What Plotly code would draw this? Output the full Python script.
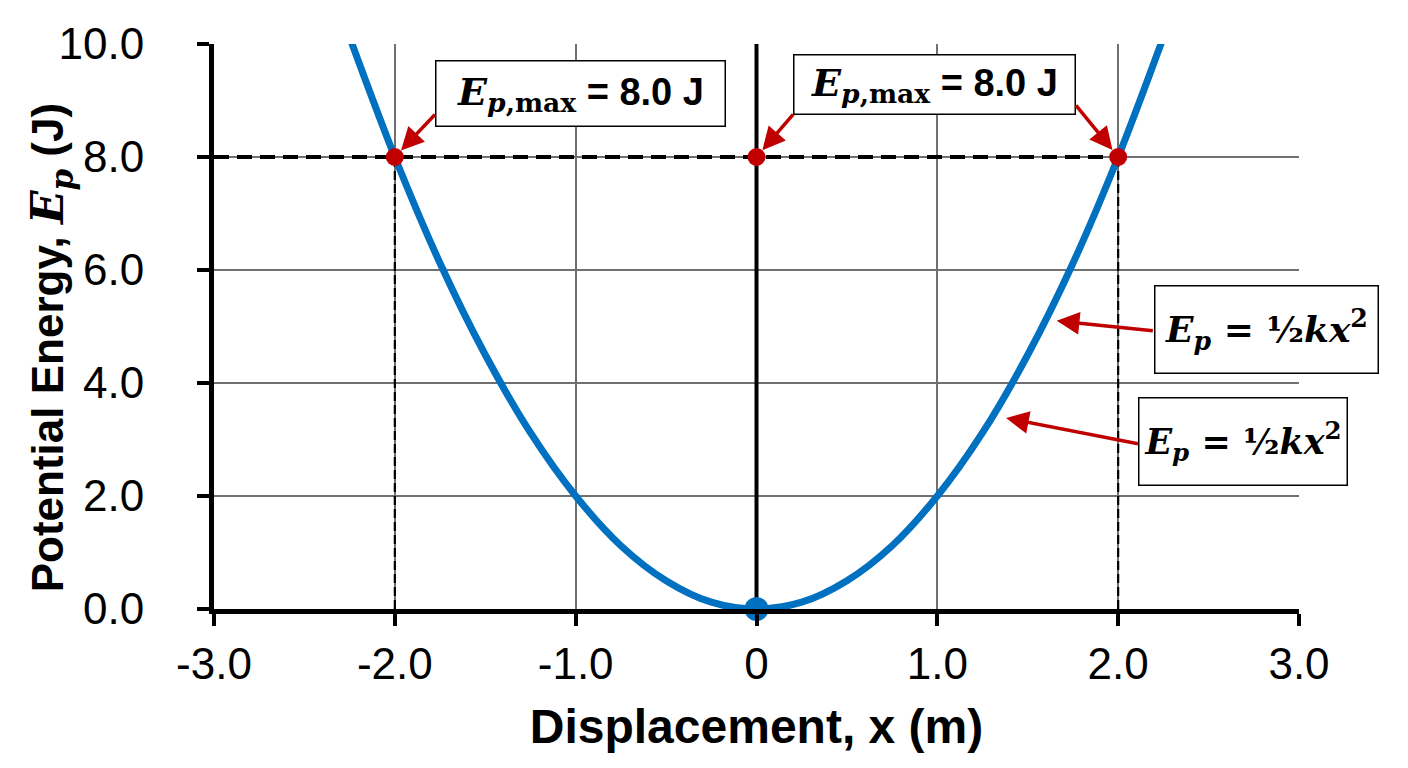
import plotly.graph_objects as go

# values
disp_x = [-2.25, -2.0, -1.75, -1.5, -1.25, -1.0, -0.75, -0.5, -0.25, 0.0,
          0.25, 0.5, 0.75, 1.0, 1.25, 1.5, 1.75, 2.0, 2.25]
energy_y = [10.12, 8.0, 6.12, 4.5, 3.12, 2.0, 1.12, 0.5, 0.12, 0.0,
            0.12, 0.5, 1.12, 2.0, 3.12, 4.5, 6.12, 8.0, 10.12]
max_x = [-2.0, 0.0, 2.0]
max_y = [8.0, 8.0, 8.0]
ep_max = 8.0
x_ticks = [-3, -2, -1, 0, 1, 2, 3]
x_ticktext = ["-3.0", "-2.0", "-1.0", "0", "1.0", "2.0", "3.0"]
y_ticks = [0, 2, 4, 6, 8, 10]
y_ticktext = ["0.0", "2.0", "4.0", "6.0", "8.0", "10.0"]

RED = "#C00000"
BLUE = "#0070C0"
SERIF = "DejaVu Serif"
SANS = "Liberation Sans"

fig = go.Figure()

# dashed guide lines
fig.add_trace(go.Scatter(x=[-3, max_x[2]], y=[ep_max, ep_max], mode="lines",
                         line=dict(color="black", width=4, dash="15px,8px"),
                         hoverinfo="skip", showlegend=False))
for xv in [max_x[0], max_x[2]]:
    fig.add_trace(go.Scatter(x=[xv, xv], y=[0, ep_max], mode="lines",
                             line=dict(color="black", width=2.2, dash="9px,4px"),
                             hoverinfo="skip", showlegend=False))

# vertical line at x = 0
fig.add_trace(go.Scatter(x=[0, 0], y=[0, 10], mode="lines",
                         line=dict(color="black", width=4),
                         hoverinfo="skip", showlegend=False))

# parabola
fig.add_trace(go.Scatter(x=disp_x, y=energy_y, mode="lines",
                         line=dict(color=BLUE, width=7, shape="spline"),
                         showlegend=False))

# markers
fig.add_trace(go.Scatter(x=max_x, y=max_y, mode="markers",
                         marker=dict(color=RED, size=18), showlegend=False))
fig.add_trace(go.Scatter(x=[0], y=[0], mode="markers", cliponaxis=False,
                         marker=dict(color=BLUE, size=24), showlegend=False))

epmax_txt = ("<span style='font-family:" + SERIF + "'><b><i>E</i><sub><i>p</i>,max</sub></b></span>"
             "<b> = 8.0 J</b>")
ep_txt = ("<span style='font-family:" + SERIF + "'><b><i>E<sub>p</sub></i> = ½<i>kx</i><sup>2</sup></b></span>")

boxes = [
    (-0.973, 9.12, epmax_txt, 288, 64, 38),
    (0.984, 9.29, epmax_txt, 280, 58, 38),
    (2.82, 4.94, ep_txt, 222, 86, 36),
    (2.69, 2.96, ep_txt, 207, 86, 35),
]
for bx, by, txt, w, h, fs in boxes:
    fig.add_annotation(x=bx, y=by, xref="x", yref="y", text=txt, showarrow=False,
                       font=dict(family=SANS, size=fs, color="black"),
                       bgcolor="white", bordercolor="black", borderwidth=1.5,
                       borderpad=0, width=w, height=h, align="center", valign="middle")

# arrows: (head x, head y, tail x, tail y, standoff)
arrows = [
    (-2.0, 8.0, -1.77, 8.78, 9),
    (0.0, 8.0, 0.21, 8.78, 9),
    (2.0, 8.0, 1.76, 8.94, 9),
    (1.66, 5.10, 2.20, 4.92, 0),
    (1.38, 3.38, 2.118, 2.92, 0),
]
for hx, hy, tx, ty, so in arrows:
    fig.add_annotation(x=hx, y=hy, ax=tx, ay=ty, xref="x", yref="y",
                       axref="x", ayref="y", text="", showarrow=True,
                       arrowhead=2, arrowsize=1.3, arrowwidth=3.5,
                       arrowcolor=RED, standoff=so)

# y axis title as a rotated annotation so it can sit where the reference has it
fig.add_annotation(x=-0.178, y=0.462, xref="paper", yref="paper", showarrow=False,
                   textangle=-90,
                   text="<b>Potential Energy, <span style='font-family:" + SERIF +
                        "'><i>E<sub>p</sub></i></span> (J)</b>",
                   font=dict(family=SANS, size=44, color="black"))

axis_style = dict(showgrid=True, gridcolor="#707070", gridwidth=1.5,
                  showline=True, linecolor="black", linewidth=5,
                  ticks="outside", ticklen=12, tickwidth=4, tickcolor="black",
                  zeroline=False, automargin=False,
                  tickfont=dict(family=SANS, size=44, color="black"))

fig.update_xaxes(range=[-3, 3], tickvals=x_ticks, ticktext=x_ticktext, **axis_style,
                 title=dict(text="<b>Displacement, x (m)</b>", standoff=24,
                            font=dict(family=SANS, size=48, color="black")))
fig.update_yaxes(range=[0, 10], tickvals=y_ticks, ticktext=y_ticktext, **axis_style,
                 ticklabelstandoff=44)

fig.update_layout(width=1408, height=768, plot_bgcolor="white", paper_bgcolor="white",
                  margin=dict(l=206, r=117, t=36, b=167), showlegend=False)

fig.write_html("out.html")
